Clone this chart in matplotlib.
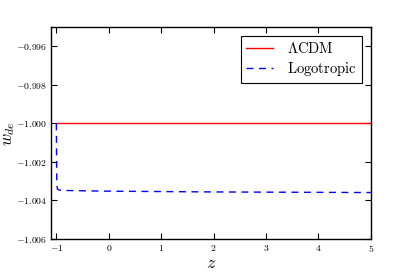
import matplotlib
matplotlib.use("Agg")
import matplotlib.pyplot as plt
from matplotlib.ticker import FuncFormatter

plt.rcParams['mathtext.fontset'] = 'cm'
plt.rcParams['font.family'] = 'serif'
plt.rcParams['font.serif'] = ['DejaVu Serif']

# Data
z_lcdm = [-1.0, 5.0]
w_lcdm = [-1.0, -1.0]

z_logo = [-1.0, -0.995, -0.99, -0.98, -0.95, -0.9, -0.5, 0.0, 1.0, 2.0, 3.0, 4.0, 5.0]
w_logo = [-1.0000, -1.0020, -1.00320, -1.00340, -1.00346, -1.00348, -1.00350,
          -1.00352, -1.00354, -1.00356, -1.00357, -1.00358, -1.00359]

xticks = [-1, 0, 1, 2, 3, 4, 5]
yticks = [-1.006, -1.004, -1.002, -1.000, -0.998, -0.996]

fig = plt.figure(figsize=(4.12, 2.74), dpi=100)
ax = fig.add_axes([0.124, 0.128, 0.776, 0.773])
ax.plot(z_lcdm, w_lcdm, color='red', lw=1.0, label=r'$\Lambda\mathrm{CDM}$')
ax.plot(z_logo, w_logo, color='blue', lw=1.0, ls=(0, (5, 4)), label=r'$\mathrm{Logotropic}$')

ax.set_xlim(-1.1, 5.0)
ax.set_ylim(-1.006, -0.995)
ax.set_xticks(xticks)
ax.set_yticks(yticks)
ax.xaxis.set_major_formatter(FuncFormatter(lambda v, p: r'$%d$' % round(v)))
ax.yaxis.set_major_formatter(FuncFormatter(lambda v, p: r'$%.3f$' % v))
ax.tick_params(direction='in', top=True, right=True, labelsize=7.0, length=4, width=0.8, pad=3)
for s in ax.spines.values():
    s.set_linewidth(1.0)

ax.set_xlabel(r'$z$', fontsize=13, labelpad=0)
ax.set_ylabel(r'$w_{de}$', fontsize=12)
ax.yaxis.set_label_coords(-0.108, 0.5)

leg = ax.legend(loc='upper right', fontsize=10.5, fancybox=False, framealpha=1,
                edgecolor='black', handlelength=1.8, borderpad=0.35, labelspacing=0.3,
                handletextpad=1.0, borderaxespad=0.6)
leg.get_frame().set_linewidth(0.8)

fig.savefig('out.png', dpi=100)
